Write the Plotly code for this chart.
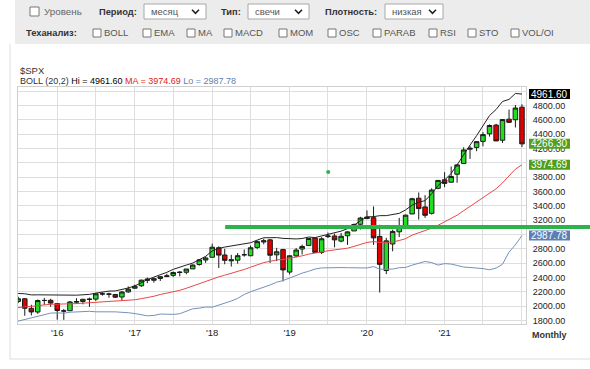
import pandas as pd
import numpy as np
import plotly.graph_objects as go

# ---------------- data ----------------
months = pd.date_range("2015-06-01", "2022-01-01", freq="MS")

opens = [2108.64, 2067.00, 2104.49, 1970.09, 1919.65, 2080.76, 2082.93,
         2038.20, 1936.94, 1937.09, 2056.62, 2067.17, 2093.94, 2099.34, 2173.15, 2171.33, 2164.33, 2128.68, 2200.17,
         2251.57, 2285.59, 2380.13, 2362.34, 2388.50, 2415.65, 2431.39, 2477.10, 2474.42, 2521.20, 2583.21, 2645.10,
         2683.73, 2816.45, 2715.22, 2633.45, 2642.96, 2718.70, 2704.95, 2821.17, 2896.96, 2926.29, 2717.58, 2790.50,
         2476.96, 2702.32, 2798.22, 2848.63, 2952.33, 2751.53, 2971.41, 2980.32, 2909.01, 2983.69, 3050.72, 3143.85,
         3244.67, 3235.66, 2974.28, 2498.08, 2869.09, 3038.78, 3105.92, 3288.26, 3507.44, 3385.87, 3296.20, 3645.87,
         3764.61, 3731.17, 3842.51, 3992.78, 4191.98, 4216.52, 4300.73, 4406.86, 4528.80, 4317.16, 4610.62, 4602.82,
         4778.14]
highs = [2129.87, 2132.82, 2112.66, 2020.86, 2094.32, 2116.48, 2104.27,
         2038.20, 1962.96, 2072.21, 2111.05, 2103.48, 2120.55, 2177.09, 2193.81, 2187.87, 2169.60, 2214.10, 2277.53,
         2300.99, 2371.54, 2400.98, 2398.16, 2418.71, 2453.82, 2484.04, 2490.87, 2519.44, 2582.98, 2657.74, 2694.97,
         2872.87, 2835.96, 2801.90, 2717.49, 2742.24, 2791.47, 2848.03, 2916.50, 2940.91, 2939.86, 2815.15, 2800.18,
         2708.95, 2813.49, 2860.31, 2949.52, 2954.13, 2964.15, 3027.98, 3013.59, 3021.99, 3050.10, 3154.26, 3247.93,
         3337.77, 3393.52, 3136.72, 2954.86, 3068.67, 3233.13, 3279.99, 3514.77, 3588.11, 3549.85, 3645.99, 3760.20,
         3870.90, 3950.43, 3983.87, 4218.78, 4238.04, 4302.43, 4429.97, 4537.36, 4545.85, 4608.08, 4743.83, 4808.93,
         4818.62]
lows = [2056.32, 2044.02, 1867.01, 1871.91, 1893.70, 2019.39, 1993.26,
        1812.29, 1810.10, 1937.09, 2033.80, 2025.91, 1991.68, 2074.02, 2147.58, 2119.12, 2114.72, 2083.79, 2187.44,
        2245.13, 2271.65, 2322.25, 2328.95, 2352.72, 2405.70, 2407.70, 2417.35, 2446.55, 2520.40, 2566.17, 2605.52,
        2682.36, 2532.69, 2585.89, 2553.80, 2594.62, 2691.99, 2698.95, 2796.34, 2864.12, 2603.54, 2631.09, 2346.58,
        2443.96, 2681.83, 2722.27, 2848.63, 2750.52, 2728.81, 2952.22, 2822.12, 2891.85, 2855.94, 3050.72, 3070.33,
        3214.64, 2855.84, 2191.86, 2447.49, 2766.64, 2965.66, 3101.17, 3284.53, 3209.45, 3233.94, 3279.74, 3633.40,
        3662.71, 3725.62, 3723.34, 3992.78, 4056.88, 4164.40, 4233.13, 4367.73, 4305.91, 4278.94, 4560.00, 4495.12,
        4222.62]
closes = [2063.11, 2103.84, 1972.18, 1920.03, 2079.36, 2080.41, 2043.94,
          1940.24, 1932.23, 2059.74, 2065.30, 2096.95, 2098.86, 2173.60, 2170.95, 2168.27, 2126.15, 2198.81, 2238.83,
          2278.87, 2363.64, 2362.72, 2384.20, 2411.80, 2423.41, 2470.30, 2471.65, 2519.36, 2575.26, 2647.58, 2673.61,
          2823.81, 2713.83, 2640.87, 2648.05, 2705.27, 2718.37, 2816.29, 2901.52, 2913.98, 2711.74, 2760.17, 2506.85,
          2704.10, 2784.49, 2834.40, 2945.83, 2752.06, 2941.76, 2980.38, 2926.46, 2976.74, 3037.56, 3140.98, 3230.78,
          3225.52, 2954.22, 2584.59, 2912.43, 3044.31, 3100.29, 3271.12, 3500.31, 3363.00, 3269.96, 3621.63, 3756.07,
          3714.24, 3811.15, 3972.89, 4181.17, 4204.11, 4297.50, 4395.26, 4522.68, 4307.54, 4605.38, 4567.00, 4766.18,
          4266.30]
# monthly closes Nov 2013 .. May 2015 (warm-up for the 20-month Bollinger band)
prior_closes = [1805.81, 1848.36, 1782.59, 1859.45, 1872.34, 1883.95, 1923.57, 1960.23, 1930.67, 2003.37,
                1972.29, 2018.05, 2067.56, 2058.90, 1994.99, 2104.50, 2067.89, 2085.51, 2107.39]

boll_period = 20
boll_k = 2

year_ticks = ["2016-01-01", "2017-01-01", "2018-01-01", "2019-01-01", "2020-01-01", "2021-01-01"]
y_ticks = list(range(1800, 5001, 200))
# labels hidden under the value boxes in the original
y_hidden = {3000, 4000, 5000}

trend_level = 3105
trend_start = "2018-03-03"
dot_date = "2019-07-02"
dot_value = 3875

# Bollinger band (20,2) from the closes
all_closes = pd.Series(prior_closes + closes)
roll = all_closes.rolling(boll_period)
ma = roll.mean().iloc[len(prior_closes):].to_numpy()
sd = roll.std(ddof=0).iloc[len(prior_closes):].to_numpy()
upper = ma + boll_k * sd
lower = ma - boll_k * sd

# ---------------- layout constants ----------------
FONT = "Arial, Liberation Sans, sans-serif"
W, H = 590, 369
ML, MR, MT, MB = 18, 64, 87, 45
PW, PH = W - ML - MR, H - MT - MB
x_start, x_end = "2015-06-30", "2022-01-20"

GREEN_UP = "#22dd22"
RED_DN = "#e00000"
EDGE = "#1a1a1a"
LINE_GREEN = "#2db34a"


def px(x):
    return (x - ML) / PW


def py(y):
    return (H - MB - y) / PH


fig = go.Figure()

fig.add_trace(go.Scatter(x=months, y=lower, mode="lines", line=dict(color="#7591bb", width=1), hoverinfo="skip"))
fig.add_trace(go.Scatter(x=months, y=ma, mode="lines", line=dict(color="#e84848", width=1), hoverinfo="skip"))
fig.add_trace(go.Scatter(x=months, y=upper, mode="lines", line=dict(color="#222222", width=1), hoverinfo="skip"))

fig.add_trace(go.Candlestick(
    x=months, open=opens, high=highs, low=lows, close=closes,
    increasing=dict(line=dict(color=EDGE, width=1), fillcolor=GREEN_UP),
    decreasing=dict(line=dict(color=EDGE, width=1), fillcolor=RED_DN),
    whiskerwidth=0, hoverinfo="skip"))

fig.add_trace(go.Scatter(x=[dot_date], y=[dot_value], mode="markers",
                         marker=dict(size=4, color=LINE_GREEN), hoverinfo="skip"))

shapes = []
annotations = []

# trend level line, running past the plot into the axis area
t0 = pd.Timestamp(x_start)
t1 = pd.Timestamp(x_end)
frac = (pd.Timestamp(trend_start) - t0) / (t1 - t0)
shapes.append(dict(type="line", xref="paper", yref="y", x0=frac, x1=px(W), y0=trend_level, y1=trend_level,
                   line=dict(color=LINE_GREEN, width=4), layer="above"))

# value boxes on the right axis
last_close = closes[-1]
boxes = [(upper[-1], "#000000"), (last_close, "#52a01e"), (ma[-1], "#4f9e1b"), (lower[-1], "#5b80b6")]
for val, bg in boxes:
    shapes.append(dict(type="rect", xref="paper", xsizemode="pixel", xanchor=1, x0=3, x1=44,
                       yref="y", ysizemode="pixel", yanchor=val, y0=-5, y1=5,
                       fillcolor=bg, line=dict(width=0), layer="above"))
    annotations.append(dict(xref="paper", x=1, xshift=4, xanchor="left", yref="y", y=val, yanchor="middle",
                            text=f"{val:.2f}", showarrow=False, font=dict(size=10, color="white", family=FONT),
                            borderpad=0))

# titles
annotations.append(dict(xref="paper", yref="paper", x=px(18), y=py(70), xanchor="left", yanchor="middle",
                        text="$SPX", showarrow=False, font=dict(size=9.5, color="#333", family=FONT)))
boll_txt = (f"BOLL ({boll_period},{boll_k}) <span style='color:#000'>Hi = {upper[-1]:.2f}</span> "
            f"<span style='color:#e02020'>MA = {ma[-1]:.2f}</span> "
            f"<span style='color:#5b7fb5'>Lo = {lower[-1]:.2f}</span>")
annotations.append(dict(xref="paper", yref="paper", x=px(18), y=py(81), xanchor="left", yanchor="middle",
                        text=boll_txt, showarrow=False, font=dict(size=9, color="#333", family=FONT)))
annotations.append(dict(xref="paper", yref="paper", x=px(530), y=py(335), xanchor="left", yanchor="middle",
                        text="<b>Monthly</b>", showarrow=False, font=dict(size=9, color="#333", family=FONT)))

# ---------------- page chrome: toolbar ----------------
def rect(x0, y0, x1, y1, fill, line_color=None, lw=1):
    shapes.append(dict(type="rect", xref="paper", yref="paper", x0=px(x0), x1=px(x1), y0=py(y0), y1=py(y1),
                       fillcolor=fill, line=dict(color=line_color or fill, width=lw if line_color else 0),
                       layer="above"))


def line(x0, y0, x1, y1, color, lw=1):
    shapes.append(dict(type="line", xref="paper", yref="paper", x0=px(x0), x1=px(x1), y0=py(y0), y1=py(y1),
                       line=dict(color=color, width=lw), layer="above"))


def text(x, y, s, size=10.5, color="#555", bold=False):
    annotations.append(dict(xref="paper", yref="paper", x=px(x), y=py(y), xanchor="left", yanchor="middle",
                            text=f"<b>{s}</b>" if bold else s, showarrow=False,
                            font=dict(size=size, color=color, family=FONT)))


def chevron(cx, cy):
    p = f"M {px(cx-3.5)},{py(cy-1.8)} L {px(cx)},{py(cy+1.8)} L {px(cx+3.5)},{py(cy-1.8)}"
    shapes.append(dict(type="path", xref="paper", yref="paper", path=p,
                       line=dict(color="#222", width=1.6), layer="above"))


rect(15, 0, W, 44, "#ececec")
line(10, 44, 10, 359, "#dddddd")
line(10, 359, W, 359, "#dddddd")

rect(30, 7, 39, 16, "white", "#777777")
text(42, 11.5, "Уровень", 9.8, "#666")
text(97, 11.5, "Период:", 9.3, "#333", True)
selects = [(144, 206, "месяц"), (248, 309, "свечи"), (385, 443, "низкая")]
for x0, x1, s in selects:
    rect(x0, 4, x1, 19, "white", "#a8a8a8")
    text(x0 + 5, 11.5, s, 9.5, "#555")
    chevron(x1 - 10.5, 11.5)
text(219, 11.5, "Тип:", 9.3, "#333", True)
text(323, 11.5, "Плотность:", 9.3, "#333", True)

text(24, 33, "Теханализ:", 9.3, "#333", True)
checks = [(93, "BOLL"), (143, "EMA"), (187, "MA"), (224, "MACD"), (279, "MOM"), (328, "OSC"),
          (373, "PARAB"), (429, "RSI"), (468, "STO"), (511, "VOL/OI")]
for cx, s in checks:
    rect(cx, 29, cx + 8, 37, "white", "#777777")
    text(cx + 9, 33, s, 9.5, "#555")

grid = "#dedede"
fig.update_layout(
    width=W, height=H,
    margin=dict(l=ML, r=MR, t=MT, b=MB, pad=0),
    paper_bgcolor="white", plot_bgcolor="white",
    showlegend=False,
    font=dict(family=FONT, size=9, color="#222"),
    boxgap=0.24, boxgroupgap=0,
    shapes=shapes, annotations=annotations,
    xaxis=dict(type="date", range=[x_start, x_end], rangeslider=dict(visible=False),
               tickmode="array", tickvals=year_ticks, tickformat="'%y",
               showgrid=True, gridcolor=grid, gridwidth=1,
               minor=dict(dtick="M6", tick0="2016-01-01", showgrid=True, gridcolor=grid, gridwidth=1),
               showline=True, mirror=True, linecolor="#cfcfcf", linewidth=1,
               ticks="", tickfont=dict(size=9.5, color="#222"), fixedrange=True),
    yaxis=dict(side="right", range=[1752, 5060], tickmode="array", tickvals=y_ticks,
               ticktext=["" if v in y_hidden else f"{v:.2f}" for v in y_ticks],
               showgrid=True, gridcolor=grid, gridwidth=1, zeroline=False,
               showline=True, mirror=True, linecolor="#cfcfcf", linewidth=1,
               ticks="", ticklabelstandoff=4, tickfont=dict(size=9, color="#222"), fixedrange=True),
)

fig.write_html("out.html", config={"displayModeBar": False},
               post_script="document.body.style.margin='0';document.body.style.overflow='hidden';")
